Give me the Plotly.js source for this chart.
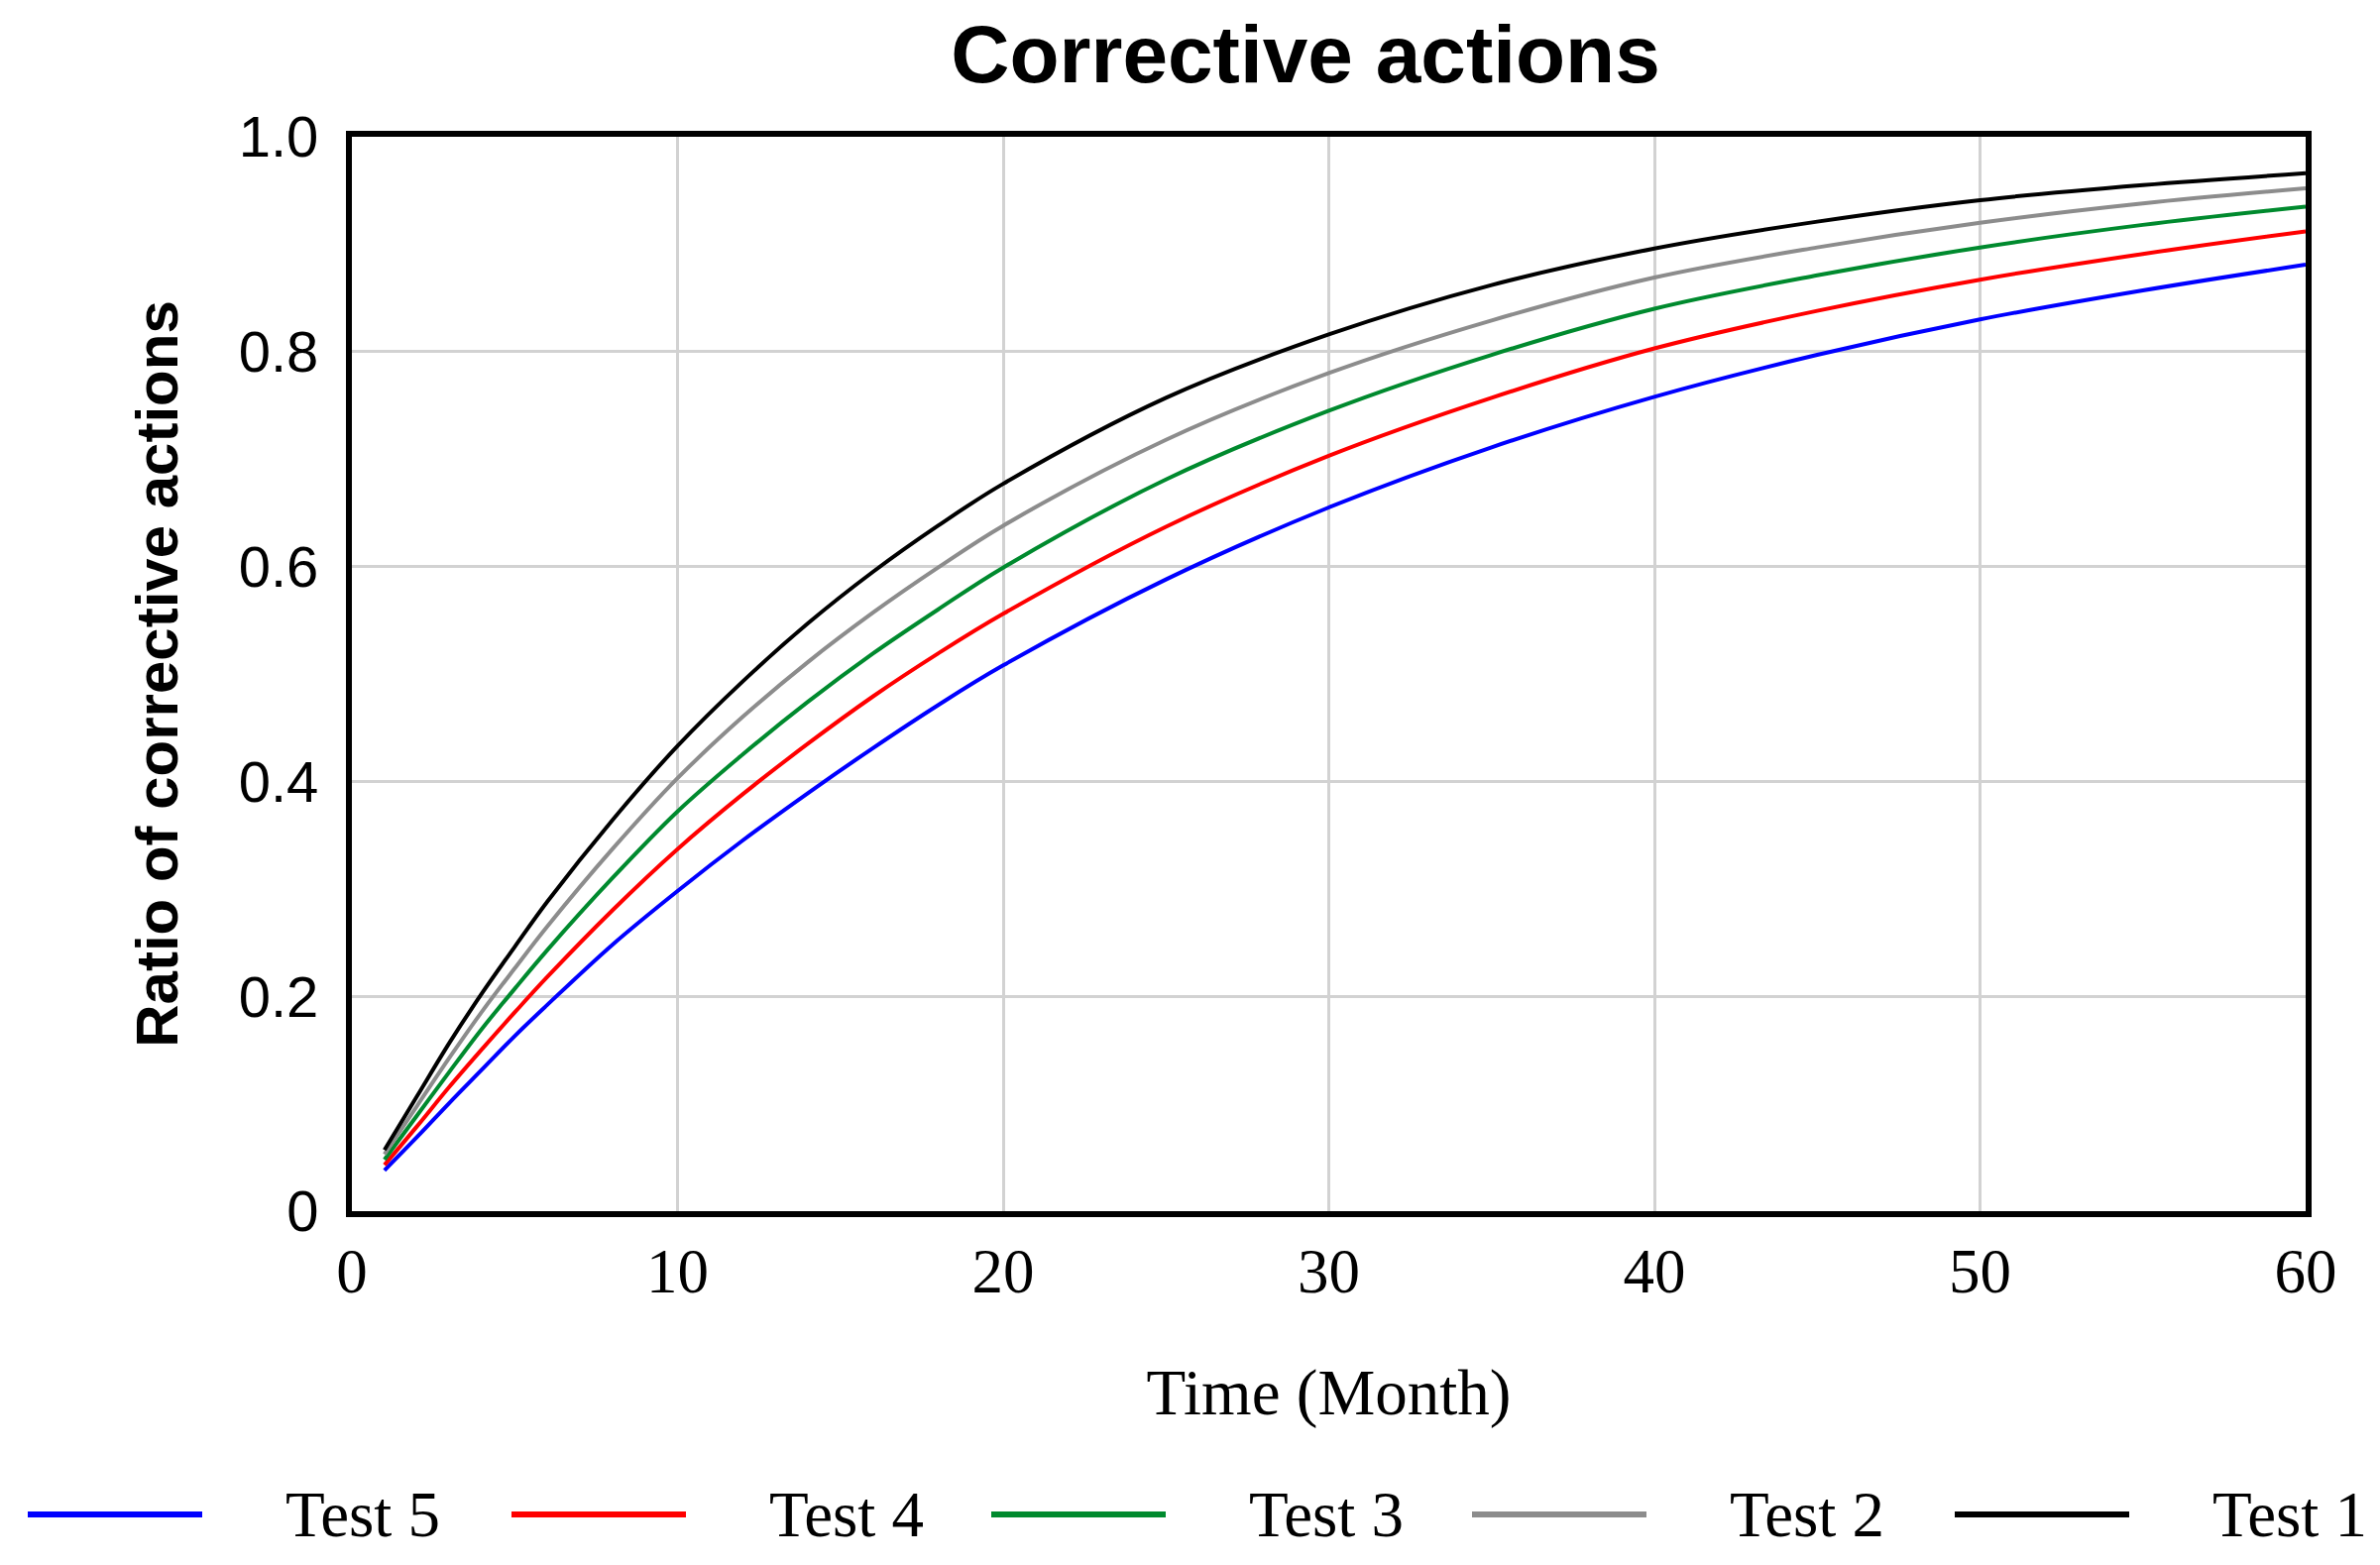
<!DOCTYPE html>
<html>
<head>
<meta charset="utf-8">
<script src="https://cdn.plot.ly/plotly-3.0.1.min.js"></script>
<style>
  html, body { margin: 0; padding: 0; background: #ffffff; }
  #chart { width: 2401px; height: 1579px; }
</style>
</head>
<body>
<div id="chart"></div>
<script>
// ---- Data ----
const months = [1, 2, 3, 4, 5, 6, 8, 10, 12, 14, 16, 18, 20, 25, 30, 35, 40, 45, 50, 55, 60];

const test1 = [0.057, 0.107, 0.157, 0.203, 0.246, 0.288, 0.364, 0.433, 0.493, 0.547, 0.595, 0.638, 0.677, 0.757, 0.816, 0.862, 0.896, 0.921, 0.941, 0.955, 0.966];
const test2 = [0.053, 0.098, 0.143, 0.186, 0.226, 0.265, 0.337, 0.403, 0.460, 0.511, 0.557, 0.599, 0.638, 0.718, 0.780, 0.829, 0.869, 0.897, 0.920, 0.938, 0.952];
const test3 = [0.048, 0.089, 0.130, 0.170, 0.207, 0.243, 0.310, 0.372, 0.425, 0.474, 0.519, 0.560, 0.599, 0.681, 0.745, 0.797, 0.840, 0.871, 0.897, 0.918, 0.935];
const test4 = [0.043, 0.079, 0.116, 0.151, 0.185, 0.218, 0.280, 0.337, 0.388, 0.435, 0.479, 0.519, 0.556, 0.637, 0.703, 0.757, 0.803, 0.838, 0.867, 0.891, 0.912];
const test5 = [0.038, 0.069, 0.101, 0.132, 0.163, 0.192, 0.248, 0.298, 0.345, 0.389, 0.431, 0.471, 0.508, 0.588, 0.655, 0.711, 0.758, 0.797, 0.830, 0.857, 0.881];

const seriesNames = ["Test 5", "Test 4", "Test 3", "Test 2", "Test 1"];
const seriesColors = ["#0000ff", "#ff0000", "#008a2e", "#8c8c8c", "#000000"];
const seriesValues = [test5, test4, test3, test2, test1];

const xTickVals = [0, 10, 20, 30, 40, 50, 60];
const xTickText = ["0", "10", "20", "30", "40", "50", "60"];
const yTickVals = [0, 0.2, 0.4, 0.6, 0.8, 1.0];
const yTickText = ["0", "0.2", "0.4", "0.6", "0.8", "1.0"];

const chartTitle = "Corrective actions";
const xTitle = "Time (Month)";
const yTitle = "Ratio of corrective actions";

// ---- Layout geometry (pixels) ----
const W = 2401, H = 1579;
const PL = 355, PR = 2326, PT = 138, PB = 1222;
const px2x = p => (p - PL) / (PR - PL);
const py2y = p => (PB - p) / (PB - PT);

const traces = seriesNames.map((name, i) => ({
  type: "scatter",
  mode: "lines",
  name: name,
  x: months,
  y: seriesValues[i],
  line: { color: seriesColors[i], width: 4, shape: "spline", smoothing: 1.0 },
  showlegend: false,
  hoverinfo: "skip"
}));

// ---- Custom legend (long swatches like the reference) ----
const legendY = 1528;
const legendStarts = [28, 516, 1000, 1485, 1972];
const swatchLen = 176;
const textOffset = 258;
const shapes = [];
const annotations = [];
seriesNames.forEach((name, i) => {
  const x0 = legendStarts[i];
  shapes.push({
    type: "line", xref: "paper", yref: "paper",
    x0: px2x(x0), x1: px2x(x0 + swatchLen),
    y0: py2y(legendY), y1: py2y(legendY),
    line: { color: seriesColors[i], width: 6 }
  });
  annotations.push({
    xref: "paper", yref: "paper",
    x: px2x(x0 + textOffset), y: py2y(legendY),
    xanchor: "left", yanchor: "middle",
    text: name, showarrow: false,
    font: { family: "Liberation Serif, Times New Roman, serif", size: 65, color: "#000" }
  });
});

const layout = {
  width: W, height: H,
  paper_bgcolor: "#ffffff",
  plot_bgcolor: "#ffffff",
  margin: { l: PL, r: W - PR, t: PT, b: H - PB, pad: 0 },
  title: {
    text: chartTitle,
    x: 1317 / W, xref: "container", xanchor: "center",
    y: 1 - 54 / H, yref: "container", yanchor: "middle",
    font: { family: "Liberation Sans, Arial, sans-serif", size: 82, color: "#000", weight: "bold" }
  },
  xaxis: {
    range: [0, 60],
    tickvals: xTickVals, ticktext: xTickText,
    ticks: "", ticklabelstandoff: 0,
    tickfont: { family: "Liberation Serif, Times New Roman, serif", size: 63, color: "#000" },
    showgrid: true, gridcolor: "#d2d2d2", gridwidth: 3,
    zeroline: false,
    showline: true, linecolor: "#000", linewidth: 6, mirror: true,
    title: {
      text: xTitle, standoff: 67,
      font: { family: "Liberation Serif, Times New Roman, serif", size: 65, color: "#000" }
    },
    automargin: false, fixedrange: true
  },
  yaxis: {
    range: [0, 1],
    tickvals: yTickVals, ticktext: yTickText,
    ticks: "", ticklabelstandoff: 16,
    tickfont: { family: "Liberation Sans, Arial, sans-serif", size: 58, color: "#000" },
    showgrid: true, gridcolor: "#d2d2d2", gridwidth: 3,
    zeroline: false,
    showline: true, linecolor: "#000", linewidth: 6, mirror: true,
    title: {
      text: yTitle, standoff: 44,
      font: { family: "Liberation Sans, Arial, sans-serif", size: 60, color: "#000", weight: "bold" }
    },
    automargin: false, fixedrange: true
  },
  shapes: shapes,
  annotations: annotations,
  showlegend: false,
  hovermode: false
};

Plotly.newPlot("chart", traces, layout, { staticPlot: true, displayModeBar: false });
</script>
</body>
</html>
